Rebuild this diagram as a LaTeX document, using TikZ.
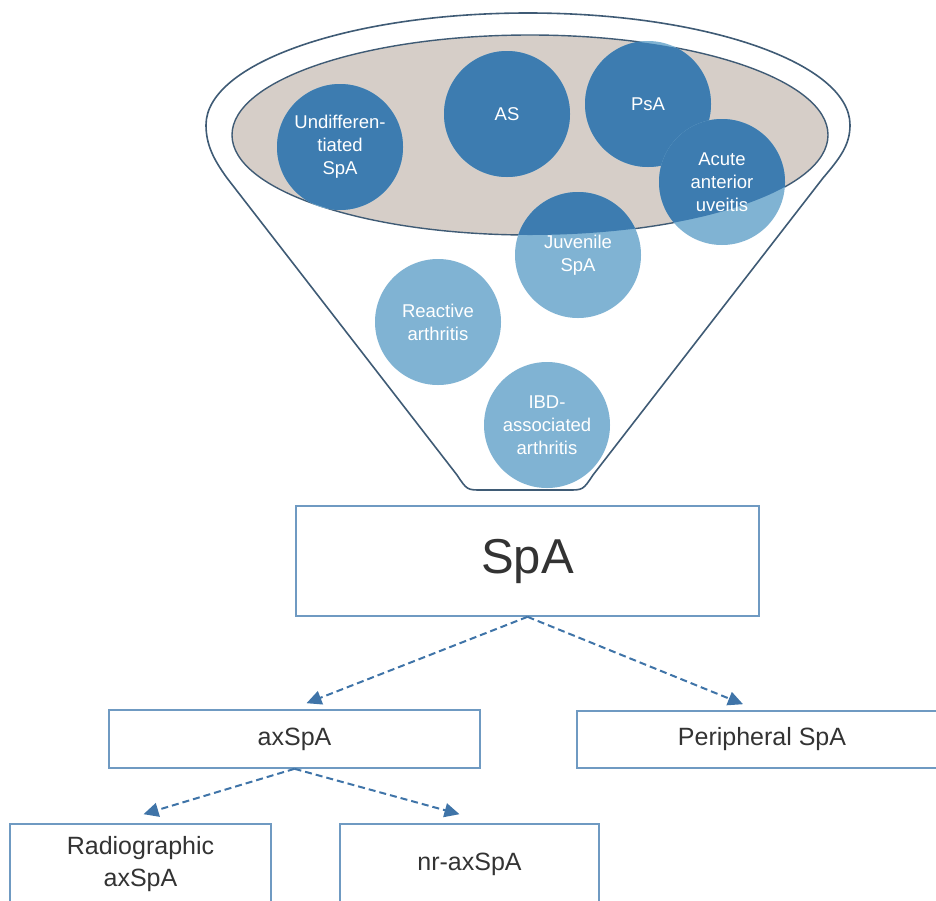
\documentclass[tikz,border=0pt]{standalone}
\usepackage{fontspec}
\setmainfont{Liberation Sans}
\usetikzlibrary{arrows.meta}
\definecolor{darkdot}{HTML}{3D7CB0}
\definecolor{lightdot}{HTML}{80B3D3}
\definecolor{lens}{HTML}{D6CEC8}
\definecolor{rim}{HTML}{3F5B75}
\definecolor{frame}{HTML}{6F9AC2}
\definecolor{flow}{HTML}{3F74A8}
\begin{document}
\begin{tikzpicture}[x=1pt,y=-1pt,
    dot/.style={circle,fill=lightdot,minimum size=126pt,inner sep=0pt,
      text=white,align=center,font=\fontsize{18.5}{23}\selectfont,
      path picture={\fill[darkdot] (lenscentre) ellipse [x radius=298pt,y radius=100pt];}},
    box/.style={draw=frame,line width=1.6pt,text=black!80,align=center,
      font=\fontsize{25}{32}\selectfont},
    flowarrow/.style={draw=flow,line width=2pt,dash pattern=on 7pt off 4pt,
      -{Triangle[length=15pt,width=14pt]}}]
  \clip (0,0) rectangle (936,900);
  \draw[rim,line width=1.6pt,fill=white]
    (206,125) .. controls (206,63.1) and (350.2,13) .. (528,13)
    .. controls (705.8,13) and (850,63.1) .. (850,125)
    .. controls (850,145) and (840,158) .. (823,178)
    -- (593,475) .. controls (583,490) .. (568,490)
    -- (482,490) .. controls (467,490) .. (457,475)
    -- (227,178) .. controls (214,160) and (206,145) .. (206,125) -- cycle;
  \coordinate (lenscentre) at (530,135);
  \draw[rim,line width=1.4pt,fill=lens] (lenscentre) ellipse [x radius=298,y radius=100];
  \node[dot] (undiff) at (340,147) {Undifferen-\\tiated\\SpA};
  \node[dot] (as) at (507,114) {AS};
  \node[dot] (psa) at (648,104) {PsA};
  \node[dot] (aau) at (722,182) {Acute\\anterior\\uveitis};
  \node[dot] (juv) at (578,255) {Juvenile\\SpA};
  \node[dot] (rea) at (438,322) {Reactive\\arthritis};
  \node[dot] (ibd) at (547,425) {IBD-\\associated\\arthritis};

  \node[box,minimum width=463pt,minimum height=110pt,
    font=\fontsize{49}{58}\selectfont] (spa) at (527.5,561) {SpA};
  \node[box,minimum width=371pt,minimum height=58pt] (ax) at (294.5,739) {axSpA};
  \node[box,minimum width=370pt,minimum height=57pt] (peri) at (762,739.5) {Peripheral SpA};
  \node[box,minimum width=261pt,minimum height=80pt] (radio) at (140.5,864) {Radiographic\\axSpA};
  \node[box,minimum width=259pt,minimum height=80pt] (nonrad) at (469.5,864) {nr-axSpA};

  \begin{scope}[flowarrow]
    \draw (spa.south) -- ([xshift=12pt,yshift=6pt]ax.north);
    \draw (spa.south) -- ([xshift=-19pt,yshift=6pt]peri.north);
    \draw (ax.south) -- ([xshift=3pt,yshift=9pt]radio.north);
    \draw (ax.south) -- ([xshift=-10pt,yshift=9pt]nonrad.north);
  \end{scope}
\end{tikzpicture}
\end{document}
